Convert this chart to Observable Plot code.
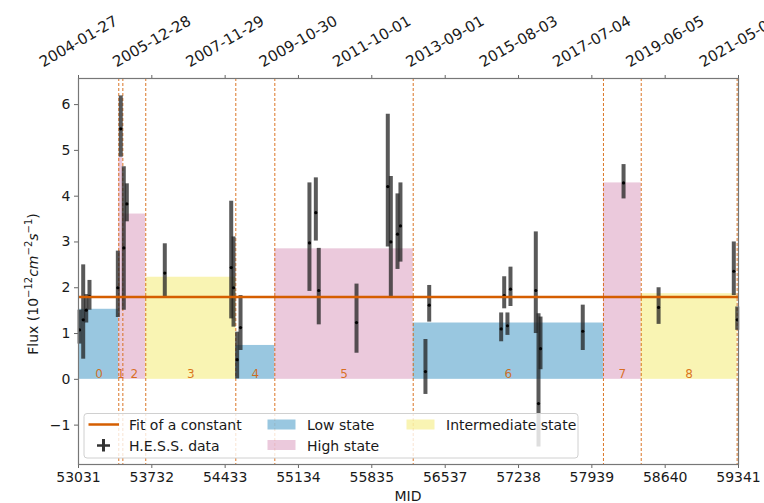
<!DOCTYPE html>
<html><head><meta charset="utf-8">
<script src="https://cdn.jsdelivr.net/npm/d3@7"></script>
<script src="https://cdn.jsdelivr.net/npm/@observablehq/plot@0.6"></script>
<style>
body{margin:0;background:#fff;}
svg{font-family:"DejaVu Sans",sans-serif;}
</style>
</head><body><div id="chart"></div>
<script>
// H.E.S.S. light-curve points (MJD, flux, lower / upper error ends), 1e-12 cm^-2 s^-1
const mjd    = [53041, 53076, 53105, 53136, 53407, 53435, 53464, 53493, 53856, 54491, 54513, 54548, 54580, 55239, 55300, 55328, 55689, 55988, 56017, 56081, 56109, 56348, 56384, 57072, 57101, 57132, 57161, 57403, 57429, 57448, 57852, 58242, 58577, 59296, 59329];
const flux   = [1.08, 1.30, 1.51, 1.81, 2.00, 5.47, 2.87, 3.83, 2.32, 2.44, 2.00, 0.43, 1.13, 2.98, 3.64, 1.94, 1.24, 4.21, 3.00, 3.17, 3.35, 0.17, 1.62, 1.10, 1.83, 1.17, 1.97, 1.94, -0.53, 0.67, 1.05, 4.29, 1.57, 2.36, 1.30];
const fluxLo = [0.77, 0.44, 1.23, 1.51, 1.35, 4.85, 1.51, 3.44, 1.78, 1.32, 1.14, 0.01, 0.63, 1.92, 3.02, 1.19, 0.57, 2.89, 1.80, 2.40, 2.56, -0.33, 1.25, 0.82, 1.54, 0.96, 1.59, 1.00, -1.48, 0.21, 0.63, 3.94, 1.20, 1.83, 1.07];
const fluxHi = [1.51, 2.50, 1.85, 2.16, 2.80, 6.19, 4.64, 4.27, 2.96, 3.89, 3.11, 1.03, 1.83, 4.29, 4.40, 2.86, 2.08, 5.79, 4.43, 4.05, 4.29, 0.87, 2.05, 1.45, 2.24, 1.45, 2.45, 3.22, 1.43, 1.36, 1.62, 4.69, 2.00, 3.00, 1.58];

// Bayesian blocks
const blockStart = [53041, 53416, 53455, 53674, 54535, 54908, 56231, 58050, 58411];
const blockEnd   = [53416, 53455, 53674, 54535, 54908, 56231, 58050, 58411, 59328];
const blockLevel = [1.53, 4.85, 3.61, 2.23, 0.74, 2.85, 1.23, 4.29, 1.87];
const blockState = ["Low", "High", "High", "Intermediate", "Low", "High", "Low", "High", "Intermediate"];
const changePoints = [53416, 53455, 53674, 54535, 54908, 56231, 58050, 58411, 59328];

const fitConstant = 1.80;

const bottomTicks = [53031, 53732, 54433, 55134, 55835, 56537, 57238, 57939, 58640, 59341];
const topTickLabels = ["2004-01-27", "2005-12-28", "2007-11-29", "2009-10-30", "2011-10-01", "2013-09-01", "2015-08-03", "2017-07-04", "2019-06-05", "2021-05-07"];
const yTicks = [-1, 0, 1, 2, 3, 4, 5, 6];

const stateColor = {Low: "#0072B2", High: "#CC79A7", Intermediate: "#F0E442"};
const fitColor = "#D55E00";

const points = mjd.map((m, i) => ({m, f: flux[i], lo: fluxLo[i], hi: fluxHi[i]}));
const blocks = blockStart.map((s, i) => ({s, e: blockEnd[i], v: blockLevel[i], st: blockState[i], id: i}));

const plot = Plot.plot({
  width: 764, height: 503,
  marginLeft: 78, marginRight: 26, marginTop: 78, marginBottom: 39,
  x: {domain: [53031, 59341]},
  y: {domain: [-1.86, 6.57]},
  style: {fontFamily: "DejaVu Sans, sans-serif", fontSize: "14px", color: "#1a1a1a", background: "white"},
  marks: [
    Plot.rect(blocks, {x1: "s", x2: "e", y1: 0, y2: "v", fill: d => stateColor[d.st], fillOpacity: 0.4}),
    Plot.ruleX(changePoints, {stroke: fitColor, strokeOpacity: 0.85, strokeWidth: 1, strokeDasharray: "3,2"}),
    Plot.text(blocks, {x: d => (d.s + d.e) / 2, y: 0, text: d => String(d.id), fill: fitColor, fillOpacity: 0.85, fontSize: 12, dy: -5}),
    Plot.ruleX(points, {x: "m", y1: "lo", y2: "hi", stroke: "#222", strokeOpacity: 0.75, strokeWidth: 4}),
    Plot.dot(points, {x: "m", y: "f", r: 1.6, fill: "black", stroke: null}),
    Plot.ruleY([fitConstant], {stroke: fitColor, strokeWidth: 2.5}),
    Plot.axisX(bottomTicks, {anchor: "bottom", tickSize: 4, tickPadding: 4, tickFormat: d => String(d), label: null, stroke: "#666"}),
    Plot.axisX(bottomTicks, {anchor: "top", tickSize: 4, tickFormat: () => "", label: null, stroke: "#666"}),
    Plot.text(bottomTicks, {x: d => d, frameAnchor: "top", dy: -37, rotate: -30, text: (d, i) => topTickLabels[i], fontSize: 15, textAnchor: "middle", lineAnchor: "middle", fill: "#1a1a1a"}),
    Plot.axisY(yTicks, {anchor: "left", tickSize: 4, tickPadding: 4, tickFormat: d => d < 0 ? "\u2212" + Math.abs(d) : String(d), label: null, stroke: "#666"}),
    Plot.frame({stroke: "#777", strokeWidth: 1.2})
  ]
});
document.getElementById("chart").appendChild(plot);

const svg = d3.select(plot);

// axis titles
svg.append("text").attr("x", 408).attr("y", 501).attr("text-anchor", "middle")
  .attr("font-size", 14).attr("fill", "#1a1a1a").text("MID");

const yl = svg.append("text").attr("transform", "translate(38,284) rotate(-90)")
  .attr("text-anchor", "middle").attr("font-size", 14).attr("fill", "#1a1a1a");
const parts = [
  ["Flux (10", "n"], ["\u221212", "sup"], ["cm", "it"], ["\u22122", "sup"], ["s", "it"], ["\u22121", "sup"], [")", "n"]
];
let prevSup = false;
for (const [t, k] of parts) {
  const ts = yl.append("tspan").text(t);
  if (k === "sup") { ts.attr("font-size", 10).attr("dy", prevSup ? 0 : -6); prevSup = true; }
  else { if (prevSup) ts.attr("dy", 6); prevSup = false; if (k === "it") ts.attr("font-style", "italic"); }
}

// legend
const lg = svg.append("g").attr("text-anchor", "start");
lg.append("rect").attr("x", 84).attr("y", 413.5).attr("width", 494).attr("height", 44.5).attr("rx", 3)
  .attr("fill", "white").attr("fill-opacity", 0.8).attr("stroke", "#d0d0d0");
lg.append("line").attr("x1", 88.5).attr("x2", 119).attr("y1", 424.5).attr("y2", 424.5)
  .attr("stroke", fitColor).attr("stroke-width", 2.5);
lg.append("line").attr("x1", 103.5).attr("x2", 103.5).attr("y1", 439).attr("y2", 451.5).attr("stroke", "#333").attr("stroke-width", 3);
lg.append("line").attr("x1", 97).attr("x2", 110).attr("y1", 445.5).attr("y2", 445.5).attr("stroke", "#333").attr("stroke-width", 2.5);
const sw = [[267.5, 419.5, "Low"], [267.5, 440, "High"], [406.5, 419.5, "Intermediate"]];
for (const [x, y, s] of sw) {
  lg.append("rect").attr("x", x).attr("y", y).attr("width", 28).attr("height", 10)
    .attr("fill", stateColor[s]).attr("fill-opacity", 0.4);
}
const lt = [[129, 424.5, "Fit of a constant"], [129, 445.5, "H.E.S.S. data"], [307, 424.5, "Low state"], [307, 445.5, "High state"], [446, 424.5, "Intermediate state"]];
for (const [x, y, t] of lt) {
  lg.append("text").attr("x", x).attr("y", y).attr("dy", "0.36em").attr("text-anchor", "start")
    .attr("font-size", 14).attr("fill", "#1a1a1a").text(t);
}
</script>
</body></html>
